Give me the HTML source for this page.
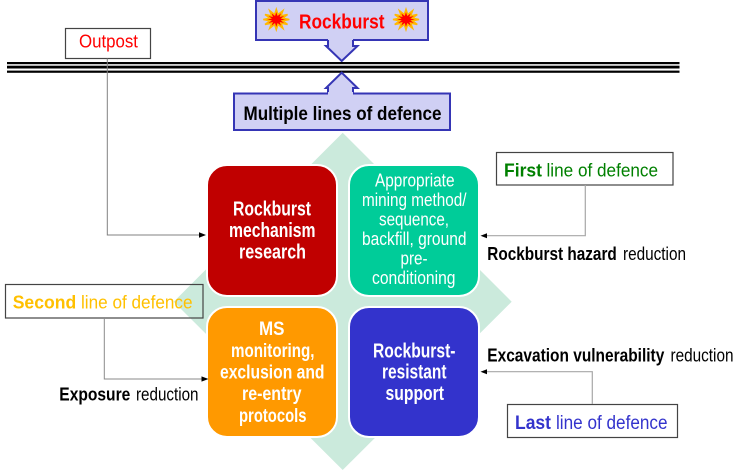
<!DOCTYPE html>
<html>
<head>
<meta charset="utf-8">
<style>
  html,body{margin:0;padding:0;background:#fff;}
  svg{display:block;}
  text{font-family:"Liberation Sans", Arial, sans-serif;}
</style>
</head>
<body>
<svg width="745" height="471" viewBox="0 0 745 471" xmlns="http://www.w3.org/2000/svg">
  <rect x="0" y="0" width="745" height="471" fill="#ffffff"/>

  <!-- Diamond background -->
  <polygon points="342.7,132.7 511.7,301.7 342.7,470 173.7,301.7" fill="#cbeadc"/>

  <!-- Top Rockburst box -->
  <rect x="256" y="1" width="172" height="39" fill="#d0d0f4" stroke="#3535b5" stroke-width="2"/>
  <!-- Down arrow -->
  <polygon points="328,38 353,38 353,46 357.5,46 341.7,61 326,46 328,46" fill="#d0d0f4"/>
  <polyline points="328,40 328,46 326,46 341.7,61 357.5,46 353,46 353,40" fill="none" stroke="#3535b5" stroke-width="2" stroke-linejoin="miter"/>

  <!-- starbursts -->
  <g transform="translate(276.3,19.5)">
    <polygon points="13,0 6.28,1.29 11.26,5 4.6,3.54 6.5,8.66 1.68,4.83 0,10 -1.68,4.83 -6.5,8.66 -4.6,3.54 -11.26,5 -6.28,1.29 -13,0 -6.28,-1.29 -11.26,-5 -4.6,-3.54 -6.5,-8.66 -1.68,-4.83 0,-10 1.68,-4.83 6.5,-8.66 4.6,-3.54 11.26,-5 6.28,-1.29" fill="#ff0000" stroke="#ffb800" stroke-width="1.6" stroke-linejoin="miter"/>
  </g>
  <g transform="translate(406,19.5)">
    <polygon points="13,0 6.28,1.29 11.26,5 4.6,3.54 6.5,8.66 1.68,4.83 0,10 -1.68,4.83 -6.5,8.66 -4.6,3.54 -11.26,5 -6.28,1.29 -13,0 -6.28,-1.29 -11.26,-5 -4.6,-3.54 -6.5,-8.66 -1.68,-4.83 0,-10 1.68,-4.83 6.5,-8.66 4.6,-3.54 11.26,-5 6.28,-1.29" fill="#ff0000" stroke="#ffb800" stroke-width="1.6" stroke-linejoin="miter"/>
  </g>
  <text x="299" y="28.3" font-size="20" font-weight="bold" fill="#ff0000" textLength="85.5" lengthAdjust="spacingAndGlyphs">Rockburst</text>

  <!-- Triple lines -->
  <rect x="7" y="62" width="672.5" height="2.2" fill="#000"/>
  <rect x="7" y="65.7" width="672.5" height="2.8" fill="#000"/>
  <rect x="7" y="70.6" width="672.5" height="2.2" fill="#000"/>

  <!-- Up arrow -->
  <polygon points="341.7,72.7 357.5,88 353,88 353,95 328,95 328,88 326,88" fill="#d0d0f4"/>
  <polyline points="328,94 328,88 326,88 341.7,72.7 357.5,88 353,88 353,94" fill="none" stroke="#3535b5" stroke-width="2"/>

  <!-- Multiple lines box -->
  <rect x="234" y="93.5" width="216" height="36.5" fill="#d0d0f4" stroke="#3535b5" stroke-width="2"/>
  <polygon points="328,92 353,92 353,95.5 328,95.5" fill="#d0d0f4"/>
  <text x="243.5" y="120" font-size="19.5" font-weight="bold" fill="#000" textLength="198" lengthAdjust="spacingAndGlyphs">Multiple lines of defence</text>

  <!-- Outpost -->
  <rect x="65.5" y="28.5" width="85" height="30" fill="#fff" stroke="#444" stroke-width="1.2"/>
  <text x="79" y="47.3" font-size="18.5" fill="#ff0000" textLength="59" lengthAdjust="spacingAndGlyphs">Outpost</text>
  <polyline points="107.3,58.5 107.3,235 200,235" fill="none" stroke="#808080" stroke-width="1"/>
  <polygon points="206,235 199,232.3 199,237.7" fill="#000"/>

  <!-- Colored boxes -->
  <rect x="207" y="165" width="130" height="131" rx="20" ry="20" fill="#c00000" stroke="#ffffff" stroke-width="2"/>
  <rect x="349" y="165" width="130" height="131" rx="20" ry="20" fill="#00cc99" stroke="#ffffff" stroke-width="2"/>
  <rect x="207" y="307" width="130" height="130" rx="20" ry="20" fill="#ff9900" stroke="#ffffff" stroke-width="2"/>
  <rect x="349" y="307" width="130" height="130" rx="20" ry="20" fill="#3333cc" stroke="#ffffff" stroke-width="2"/>

  <!-- Red box text -->
  <g font-size="20" font-weight="bold" fill="#fff">
    <text x="233" y="215.5" textLength="78" lengthAdjust="spacingAndGlyphs">Rockburst</text>
    <text x="229" y="237" textLength="86.5" lengthAdjust="spacingAndGlyphs">mechanism</text>
    <text x="239" y="258.5" textLength="67" lengthAdjust="spacingAndGlyphs">research</text>
  </g>

  <!-- Teal box text -->
  <g font-size="18" fill="#fff">
    <text x="375" y="186.5" textLength="79.5" lengthAdjust="spacingAndGlyphs">Appropriate</text>
    <text x="362" y="206" textLength="104.5" lengthAdjust="spacingAndGlyphs">mining method/</text>
    <text x="379" y="225.5" textLength="70" lengthAdjust="spacingAndGlyphs">sequence,</text>
    <text x="362" y="245" textLength="104.5" lengthAdjust="spacingAndGlyphs">backfill, ground</text>
    <text x="400.5" y="264.5" textLength="27" lengthAdjust="spacingAndGlyphs">pre-</text>
    <text x="372" y="284" textLength="83.5" lengthAdjust="spacingAndGlyphs">conditioning</text>
  </g>

  <!-- Orange box text -->
  <g font-size="19.5" font-weight="bold" fill="#fff">
    <text x="259" y="335" textLength="25.5" lengthAdjust="spacingAndGlyphs">MS</text>
    <text x="231" y="356.8" textLength="83.5" lengthAdjust="spacingAndGlyphs">monitoring,</text>
    <text x="220" y="378.5" textLength="104.5" lengthAdjust="spacingAndGlyphs">exclusion and</text>
    <text x="242" y="400.2" textLength="59.5" lengthAdjust="spacingAndGlyphs">re-entry</text>
    <text x="239" y="421.9" textLength="67.5" lengthAdjust="spacingAndGlyphs">protocols</text>
  </g>

  <!-- Blue box text -->
  <g font-size="20" font-weight="bold" fill="#fff">
    <text x="373" y="357.5" textLength="82.5" lengthAdjust="spacingAndGlyphs">Rockburst-</text>
    <text x="382" y="378.5" textLength="64.5" lengthAdjust="spacingAndGlyphs">resistant</text>
    <text x="385.5" y="400" textLength="58.5" lengthAdjust="spacingAndGlyphs">support</text>
  </g>

  <!-- First line of defence -->
  <rect x="496.5" y="152.5" width="176.5" height="32.5" fill="#fff" stroke="#444" stroke-width="1.2"/>
  <text x="504" y="176.7" font-size="18.5" font-weight="bold" fill="#008000" textLength="38" lengthAdjust="spacingAndGlyphs">First</text>
  <text x="546.5" y="176.7" font-size="18.5" fill="#008000" textLength="111.5" lengthAdjust="spacingAndGlyphs">line of defence</text>
  <polyline points="585.3,185 585.3,235.7 486,235.7" fill="none" stroke="#a8a8a8" stroke-width="1.2"/>
  <polygon points="480.5,235.7 487,233.2 487,238.2" fill="#000"/>
  <text x="487.3" y="260" font-size="18.5" font-weight="bold" fill="#000" textLength="129.5" lengthAdjust="spacingAndGlyphs">Rockburst hazard</text>
  <text x="623" y="260" font-size="18.5" fill="#000" textLength="63" lengthAdjust="spacingAndGlyphs">reduction</text>

  <!-- Second line of defence -->
  <rect x="5.5" y="284.5" width="197.5" height="33.5" fill="none" stroke="#444" stroke-width="1.2"/>
  <text x="12.7" y="308.3" font-size="18.5" font-weight="bold" fill="#ffc000" textLength="63.5" lengthAdjust="spacingAndGlyphs">Second</text>
  <text x="81" y="308.3" font-size="18.5" fill="#ffc000" textLength="111.5" lengthAdjust="spacingAndGlyphs">line of defence</text>
  <polyline points="104.3,318 104.3,379 202,379" fill="none" stroke="#8a8a8a" stroke-width="1"/>
  <polygon points="208.5,379 201.5,376.4 201.5,381.6" fill="#000"/>
  <text x="59.3" y="400.5" font-size="18" font-weight="bold" fill="#000" textLength="71" lengthAdjust="spacingAndGlyphs">Exposure</text>
  <text x="136" y="400.5" font-size="18" fill="#000" textLength="62.5" lengthAdjust="spacingAndGlyphs">reduction</text>

  <!-- Last line of defence -->
  <rect x="507.5" y="404.5" width="170" height="33" fill="#fff" stroke="#444" stroke-width="1.2"/>
  <text x="515" y="429" font-size="19" font-weight="bold" fill="#3333cc" textLength="36" lengthAdjust="spacingAndGlyphs">Last</text>
  <text x="556" y="429" font-size="19" fill="#3333cc" textLength="111.5" lengthAdjust="spacingAndGlyphs">line of defence</text>
  <polyline points="592.3,404 592.3,371.7 486,371.7" fill="none" stroke="#a8a8a8" stroke-width="1.2"/>
  <polygon points="480.5,371.7 487,369.2 487,374.2" fill="#000"/>
  <text x="487.3" y="361.7" font-size="18.5" font-weight="bold" fill="#000" textLength="177" lengthAdjust="spacingAndGlyphs">Excavation vulnerability</text>
  <text x="670.5" y="361.7" font-size="18.5" fill="#000" textLength="63" lengthAdjust="spacingAndGlyphs">reduction</text>
</svg>
</body>
</html>
